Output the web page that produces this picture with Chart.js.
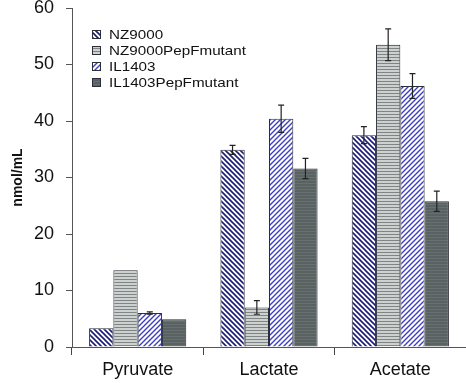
<!DOCTYPE html>
<html>
<head>
<meta charset="utf-8">
<script src="https://cdn.jsdelivr.net/npm/chart.js@4"></script>
<style>
  html, body { margin: 0; padding: 0; background: #fff; }
  #wrap { width: 466px; height: 383px; }
</style>
</head>
<body>
<div id="wrap"><canvas id="barChart" width="466" height="383"></canvas></div>
<script>
// data
var categories = ['Pyruvate', 'Lactate', 'Acetate'];
var seriesNames = ['NZ9000', 'NZ9000PepFmutant', 'IL1403', 'IL1403PepFmutant'];
var nz9000 = [3.3, 34.9, 37.5];
var nz9000Pep = [13.6, 7.0, 53.5];
var il1403 = [6.0, 40.4, 46.2];
var il1403Pep = [4.9, 31.6, 25.8];
var nz9000Err = [0, 0.8, 1.5];
var nz9000PepErr = [0, 1.2, 2.8];
var il1403Err = [0.2, 2.4, 2.2];
var il1403PepErr = [0, 1.8, 1.8];
var yTicks = [0, 10, 20, 30, 40, 50, 60];

// little pattern tiles for the hatched bars
function stripeTile(kind) {
  var c = document.createElement('canvas');
  var s = 5;
  c.width = s; c.height = s;
  var g = c.getContext('2d');
  if (kind === 'back') {
    g.fillStyle = '#ffffff';
    g.fillRect(0, 0, s, s);
    g.strokeStyle = '#1c1c78';
    g.lineWidth = 1.6;
    g.beginPath();
    g.moveTo(-1, -1); g.lineTo(s + 1, s + 1);
    g.moveTo(-1, s - 1); g.lineTo(1, s + 1);
    g.moveTo(s - 1, -1); g.lineTo(s + 1, 1);
    g.stroke();
  } else if (kind === 'fwd') {
    g.fillStyle = '#ffffff';
    g.fillRect(0, 0, s, s);
    g.strokeStyle = '#3e3ec0';
    g.lineWidth = 1.4;
    g.beginPath();
    g.moveTo(-1, s + 1); g.lineTo(s + 1, -1);
    g.moveTo(-1, 1); g.lineTo(1, -1);
    g.moveTo(s - 1, s + 1); g.lineTo(s + 1, s - 1);
    g.stroke();
  } else if (kind === 'horiz') {
    c.width = 4; c.height = 3;
    g.fillStyle = '#cdd1d0';
    g.fillRect(0, 0, 4, 3);
    g.fillStyle = '#7f8585';
    g.fillRect(0, 0, 4, 1);
  } else {
    c.width = 4; c.height = 3;
    g.fillStyle = '#5a6261';
    g.fillRect(0, 0, 4, 3);
    g.fillStyle = '#667070';
    g.fillRect(0, 0, 4, 1);
  }
  return c;
}

var ctx = document.getElementById('barChart').getContext('2d');
var fills = [
  ctx.createPattern(stripeTile('back'), 'repeat'),
  ctx.createPattern(stripeTile('horiz'), 'repeat'),
  ctx.createPattern(stripeTile('fwd'), 'repeat'),
  ctx.createPattern(stripeTile('solid'), 'repeat')
];
var values = [nz9000, nz9000Pep, il1403, il1403Pep];
var errs = [nz9000Err, nz9000PepErr, il1403Err, il1403PepErr];

var datasets = [];
for (var i = 0; i < seriesNames.length; i++) {
  datasets.push({
    label: seriesNames[i],
    data: values[i],
    errors: errs[i],
    backgroundColor: fills[i],
    borderColor: '#2c2f3a',
    borderWidth: 1,
    borderSkipped: 'bottom',
    barPercentage: 1,
    categoryPercentage: 0.74
  });
}

// error bars, drawn after the bars
var errorBars = {
  id: 'errorBars',
  afterDatasetsDraw: function(chart) {
    var c = chart.ctx;
    var y = chart.scales.y;
    c.save();
    c.strokeStyle = '#222';
    c.lineWidth = 1.2;
    chart.data.datasets.forEach(function(ds, di) {
      var meta = chart.getDatasetMeta(di);
      meta.data.forEach(function(bar, k) {
        var e = ds.errors[k];
        if (!e) return;
        var top = y.getPixelForValue(ds.data[k] + e);
        var bot = y.getPixelForValue(ds.data[k] - e);
        c.beginPath();
        c.moveTo(bar.x, top); c.lineTo(bar.x, bot);
        c.moveTo(bar.x - 3, top); c.lineTo(bar.x + 3, top);
        c.moveTo(bar.x - 3, bot); c.lineTo(bar.x + 3, bot);
        c.stroke();
      });
    });
    c.restore();
  }
};

// legend sits inside the plot, top left (text is a bit wide in the original)
var innerLegend = {
  id: 'innerLegend',
  afterDraw: function(chart) {
    var c = chart.ctx;
    var x0 = chart.chartArea.left + 20;
    var y0 = 34;
    c.save();
    c.font = '13px "Liberation Sans", Arial, sans-serif';
    c.textBaseline = 'middle';
    chart.data.datasets.forEach(function(ds, i) {
      var yy = y0 + i * 16;
      c.fillStyle = ds.backgroundColor;
      c.fillRect(x0, yy - 4, 9, 9);
      c.strokeStyle = '#2c2f3a';
      c.lineWidth = 1;
      c.strokeRect(x0 + 0.5, yy - 3.5, 8, 8);
      c.save();
      c.translate(x0 + 17, yy + 1);
      c.scale(1.17, 1);
      c.fillStyle = '#111';
      c.fillText(ds.label, 0, 0);
      c.restore();
    });
    c.restore();
  }
};

new Chart(ctx, {
  type: 'bar',
  data: { labels: categories, datasets: datasets },
  plugins: [errorBars, innerLegend],
  options: {
    responsive: false,
    animation: false,
    devicePixelRatio: 1,
    layout: { padding: { top: 0, right: 0, left: 0, bottom: 0 } },
    plugins: {
      legend: { display: false },
      tooltip: { enabled: false }
    },
    scales: {
      x: {
        grid: { display: true, drawOnChartArea: false, drawTicks: true, tickLength: 8, color: '#444' },
        border: { color: '#555', width: 1 },
        ticks: {
          color: '#111',
          padding: 4,
          font: { family: '"Liberation Sans", Arial, sans-serif', size: 18 }
        },
        afterFit: function(scale) {
          scale.height = 36;
          scale.paddingLeft = 0;
          scale.paddingRight = 0;
        }
      },
      y: {
        min: 0,
        max: 60,
        afterBuildTicks: function(scale) {
          scale.ticks = yTicks.map(function(v) { return { value: v }; });
        },
        grid: { display: true, drawOnChartArea: false, drawTicks: true, tickLength: 6, color: '#555' },
        border: { color: '#555', width: 1 },
        ticks: {
          color: '#111',
          padding: 12,
          font: { family: '"Liberation Sans", Arial, sans-serif', size: 18 }
        },
        title: {
          display: true,
          text: 'nmol/mL',
          color: '#111',
          padding: { top: 10, bottom: 0 },
          font: { family: '"Liberation Sans", Arial, sans-serif', size: 14, weight: 'bold' }
        },
        afterFit: function(scale) {
          scale.width = 72;
          scale.paddingTop = 8;
          scale.paddingBottom = 0;
        }
      }
    }
  }
});
</script>
</body>
</html>
